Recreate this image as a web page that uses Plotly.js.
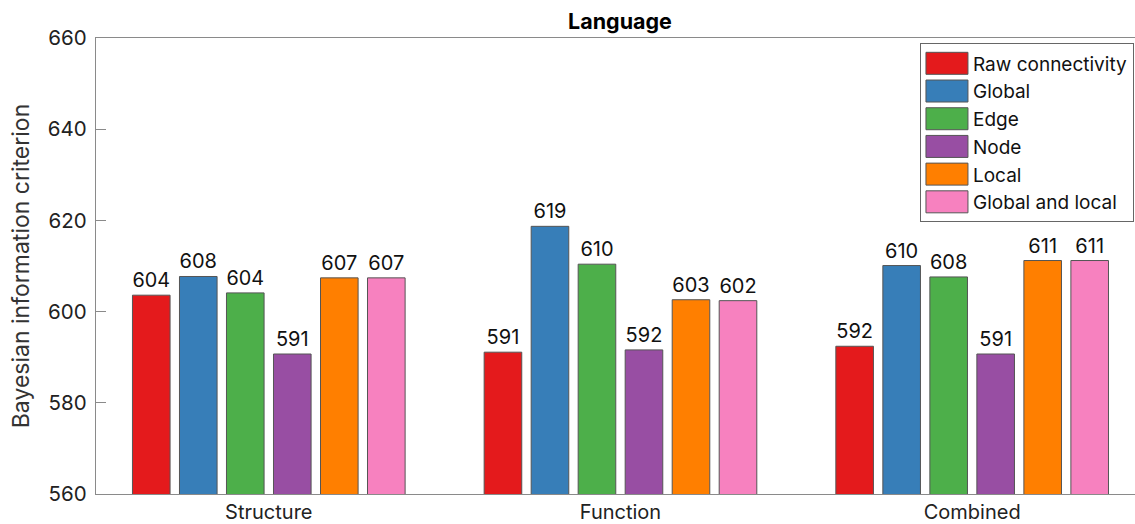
<!DOCTYPE html>
<html>
<head>
<meta charset="utf-8">
<script src="https://cdn.plot.ly/plotly-3.0.1.min.js"></script>
<style>html,body{margin:0;padding:0;background:#fff;}#chart{width:1135px;height:524px;}</style>
</head>
<body>
<div id="chart"></div>
<script>
const categories = ["Structure", "Function", "Combined"];
const seriesNames = ["Raw connectivity", "Global", "Edge", "Node", "Local", "Global and local"];
const rawConnectivity = [603.6, 591.1, 592.4];
const globalVals = [607.7, 618.7, 610.1];
const edgeVals = [604.1, 610.4, 607.6];
const nodeVals = [590.7, 591.6, 590.7];
const localVals = [607.4, 602.6, 611.2];
const globalLocalVals = [607.4, 602.4, 611.2];
const seriesValues = [rawConnectivity, globalVals, edgeVals, nodeVals, localVals, globalLocalVals];
const colors = ["#E41A1C", "#377EB8", "#4DAF4A", "#984EA3", "#FF7F00", "#F781BF"];
const yTicks = [560, 580, 600, 620, 640, 660];

const FONT = "Inter, Liberation Sans, Arial, sans-serif";

const traces = seriesNames.map((name, i) => ({
  type: "bar",
  name: name,
  x: [0, 1, 2],
  y: seriesValues[i],
  marker: {color: colors[i], line: {color: "#555", width: 1}},
  text: seriesValues[i].map(v => String(Math.round(v))),
  textposition: "outside",
  textfont: {family: FONT, size: 20, color: "#111"},
  cliponaxis: false,
  hoverinfo: "x+y+name"
}));

const layout = {
  width: 1135,
  height: 524,
  margin: {l: 96, r: 0, t: 37.5, b: 30, pad: 0},
  paper_bgcolor: "#fff",
  plot_bgcolor: "#fff",
  font: {family: FONT, color: "#222"},
  barmode: "group",
  bargap: 0.198,
  bargroupgap: 0.2,
  showlegend: true,
  title: {
    text: "<b>Language</b>",
    font: {family: FONT, size: 21.5, color: "#000"},
    x: 620 / 1135, xref: "container",
    y: 1 - 21 / 524, yref: "container",
    xanchor: "center", yanchor: "middle"
  },
  xaxis: {
    range: [-0.4913, 2.463],
    tickmode: "array",
    tickvals: [0, 1, 2],
    ticktext: categories,
    ticks: "",
    showgrid: false,
    zeroline: false,
    showline: true,
    mirror: true,
    linecolor: "#8a8a8a",
    linewidth: 1.3,
    tickfont: {family: FONT, size: 20, color: "#222"},
    ticklabelstandoff: 0
  },
  yaxis: {
    range: [560, 660],
    tickmode: "array",
    tickvals: yTicks,
    ticktext: yTicks.map(String),
    ticks: "inside",
    ticklen: 10,
    tickcolor: "#8a8a8a",
    tickwidth: 1,
    showgrid: false,
    zeroline: false,
    showline: true,
    mirror: false,
    linecolor: "#8a8a8a",
    linewidth: 1.3,
    tickfont: {family: FONT, size: 20.5, color: "#222"},
    ticklabelstandoff: 4,
    title: {text: "Bayesian information criterion", font: {family: FONT, size: 23, color: "#333"}, standoff: 11}
  },
  legend: {
    x: 0.999, xanchor: "right",
    y: 0.988, yanchor: "top",
    bgcolor: "#fff",
    bordercolor: "#666",
    borderwidth: 1,
    font: {family: FONT, size: 19, color: "#111"},
    itemwidth: 42,
    tracegroupgap: 0
  }
};

Plotly.newPlot("chart", traces, layout, {displayModeBar: false, staticPlot: true}).then(gd => {
  gd.querySelectorAll(".legend .legendpoints path").forEach(p => {
    p.setAttribute("d", "M-21,-11H21V11H-21Z");
  });
});
</script>
</body>
</html>
